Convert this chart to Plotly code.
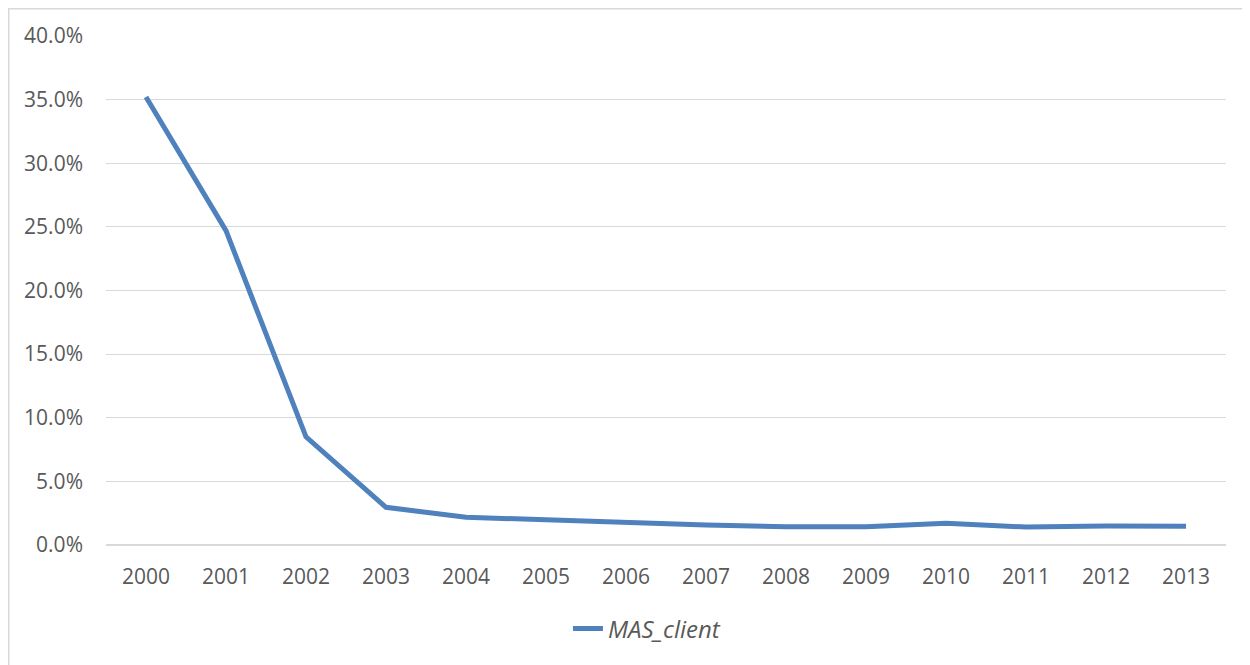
import plotly.graph_objects as go

years = ["2000", "2001", "2002", "2003", "2004", "2005", "2006",
         "2007", "2008", "2009", "2010", "2011", "2012", "2013"]
mas_client = [0.352, 0.247, 0.085, 0.0296, 0.0218, 0.0196, 0.0172,
              0.0157, 0.0144, 0.0144, 0.0170, 0.0141, 0.0149, 0.0147]

# page body has an 8px margin, so the figure is laid out 8px smaller
W, H = 1242, 657
L, R, T, B = 98, 24, 28, 120
pw, ph = W - L - R, H - T - B

fig = go.Figure()
fig.add_trace(go.Scatter(
    x=years, y=mas_client, mode="lines", name="MAS_client",
    line=dict(color="#4F81BD", width=5),
))

font_fam = "Open Sans, Liberation Sans, sans-serif"
fig.update_layout(
    width=W, height=H,
    margin=dict(l=L, r=R, t=T, b=B),
    paper_bgcolor="white", plot_bgcolor="white",
    font=dict(family=font_fam, size=21, color="#595959"),
    showlegend=True,
    legend=dict(orientation="h", x=0.483, xanchor="center", y=-0.165, yanchor="middle",
                font=dict(size=24, color="#595959", style="italic")),
    xaxis=dict(type="category", range=[-0.5, 13.5], showgrid=False, showline=False,
               ticks="", tickfont=dict(size=21, color="#595959"), ticklabelstandoff=17),
    yaxis=dict(range=[0, 0.40], dtick=0.05, tickformat=".1%", showgrid=True,
               gridcolor="#D9D9D9", gridwidth=1, zeroline=True, zerolinecolor="#D9D9D9",
               showline=False, ticks="", tickfont=dict(size=21, color="#595959"),
               ticklabelstandoff=22),
    shapes=[dict(type="rect", xref="paper", yref="paper",
                 x0=(0.75 - L) / pw, x1=(W + 10 - L) / pw,
                 y0=(ph - (H + 10 - T)) / ph, y1=(ph + T - 0.75) / ph,
                 line=dict(color="#D9D9D9", width=1.5), fillcolor="rgba(0,0,0,0)",
                 layer="below")],
)

fig.write_html("out.html")
